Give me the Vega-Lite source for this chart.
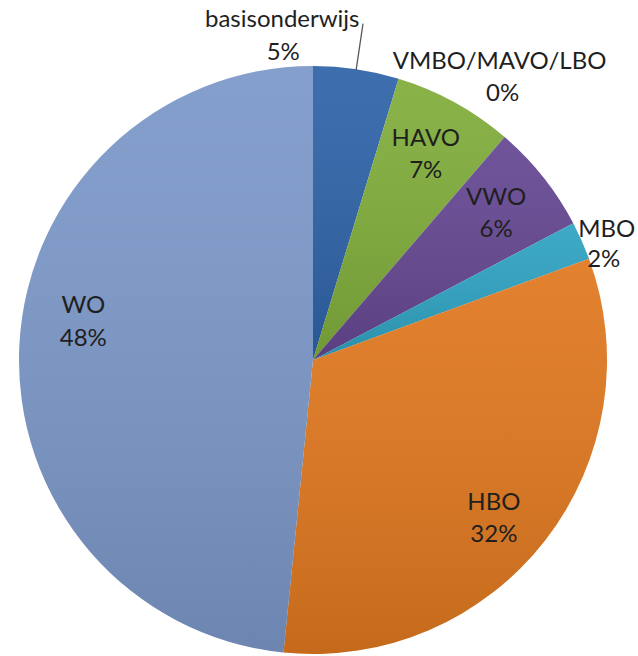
{
  "$schema": "https://vega.github.io/schema/vega-lite/v6.json",
  "width": 626,
  "height": 592,
  "autosize": "none",
  "padding": {"left": 0, "top": 64, "right": 12, "bottom": 0},
  "background": "white",
  "config": {"view": {"stroke": null}, "text": {"font": "Lato", "fontSize": 24, "color": "#1f1f1f"}},
  "data": {"values": [
    {"rank": 1, "cat": "basisonderwijs", "share": 0.047},
    {"rank": 2, "cat": "VMBO/MAVO/LBO", "share": 0.0},
    {"rank": 3, "cat": "HAVO", "share": 0.066},
    {"rank": 4, "cat": "VWO", "share": 0.060},
    {"rank": 5, "cat": "MBO", "share": 0.021},
    {"rank": 6, "cat": "HBO", "share": 0.322},
    {"rank": 7, "cat": "WO", "share": 0.484}
  ]},
  "encoding": {
    "theta": {"field": "share", "type": "quantitative", "stack": true},
    "order": {"field": "rank", "type": "quantitative"}
  },
  "layer": [
    {
      "mark": {"type": "arc", "outerRadius": 294},
      "encoding": {
        "color": {"field": "cat", "type": "nominal", "legend": null,
          "scale": {"domain": ["basisonderwijs", "VMBO/MAVO/LBO", "HAVO", "VWO", "MBO", "HBO", "WO"],
                    "range": ["#2F63A8", "#C0504D", "#80AD3B", "#654792", "#2FA3C2", "#E0781F", "#7C98C9"]}}
      }
    },
    {
      "mark": {"type": "arc", "outerRadius": 294,
        "fill": {"gradient": "linear", "x1": 0, "y1": 0, "x2": 0, "y2": 1,
          "stops": [{"offset": 0, "color": "rgba(255,255,255,0.07)"}, {"offset": 1, "color": "rgba(0,0,0,0.12)"}]}}
    },
    {
      "mark": {"type": "arc", "innerRadius": 293, "outerRadius": 340, "padAngle": 0.6, "fill": null, "stroke": "#595959", "strokeWidth": 1.3},
      "encoding": {
        "strokeOpacity": {"condition": {"test": "datum.cat === 'basisonderwijs'", "value": 1}, "value": 0}
      }
    },
    {
      "mark": {"type": "text", "radius": 234, "dy": -16, "baseline": "middle", "align": "center"},
      "encoding": {"text": {"condition": {"test": "datum.cat === 'HAVO' || datum.cat === 'VWO'", "field": "cat"}, "value": ""}}
    },
    {
      "mark": {"type": "text", "radius": 234, "dy": 16, "baseline": "middle", "align": "center"},
      "encoding": {"text": {"condition": {"test": "datum.cat === 'HAVO' || datum.cat === 'VWO'", "field": "share", "format": ".0%"}, "value": ""}}
    },
    {
      "mark": {"type": "text", "radius": 234, "dx": -4, "dy": 0, "baseline": "middle", "align": "center"},
      "encoding": {"text": {"condition": {"test": "datum.cat === 'HBO'", "field": "cat"}, "value": ""}}
    },
    {
      "mark": {"type": "text", "radius": 234, "dx": -4, "dy": 32, "baseline": "middle", "align": "center"},
      "encoding": {"text": {"condition": {"test": "datum.cat === 'HBO'", "field": "share", "format": ".0%"}, "value": ""}}
    },
    {
      "mark": {"type": "text", "radius": 234, "dx": 4, "dy": -42, "baseline": "middle", "align": "center"},
      "encoding": {"text": {"condition": {"test": "datum.cat === 'WO'", "field": "cat"}, "value": ""}}
    },
    {
      "mark": {"type": "text", "radius": 234, "dx": 4, "dy": -9, "baseline": "middle", "align": "center"},
      "encoding": {"text": {"condition": {"test": "datum.cat === 'WO'", "field": "share", "format": ".0%"}, "value": ""}}
    },
    {
      "mark": {"type": "text", "radius": 294, "dx": -74, "dy": -49, "baseline": "middle", "align": "center"},
      "encoding": {"text": {"condition": {"test": "datum.cat === 'basisonderwijs'", "field": "cat"}, "value": ""}}
    },
    {
      "mark": {"type": "text", "radius": 294, "dx": -73, "dy": -16, "baseline": "middle", "align": "center"},
      "encoding": {"text": {"condition": {"test": "datum.cat === 'basisonderwijs'", "field": "share", "format": ".0%"}, "value": ""}}
    },
    {
      "mark": {"type": "text", "radius": 294, "dx": 101, "dy": -17, "baseline": "middle", "align": "center"},
      "encoding": {"text": {"condition": {"test": "datum.cat === 'VMBO/MAVO/LBO'", "field": "cat"}, "value": ""}}
    },
    {
      "mark": {"type": "text", "radius": 294, "dx": 104, "dy": 15, "baseline": "middle", "align": "center"},
      "encoding": {"text": {"condition": {"test": "datum.cat === 'VMBO/MAVO/LBO'", "field": "share", "format": ".0%"}, "value": ""}}
    },
    {
      "mark": {"type": "text", "radius": 294, "dx": 25, "dy": -11, "baseline": "middle", "align": "center"},
      "encoding": {"text": {"condition": {"test": "datum.cat === 'MBO'", "field": "cat"}, "value": ""}}
    },
    {
      "mark": {"type": "text", "radius": 294, "dx": 22, "dy": 19, "baseline": "middle", "align": "center"},
      "encoding": {"text": {"condition": {"test": "datum.cat === 'MBO'", "field": "share", "format": ".0%"}, "value": ""}}
    }
  ]
}
